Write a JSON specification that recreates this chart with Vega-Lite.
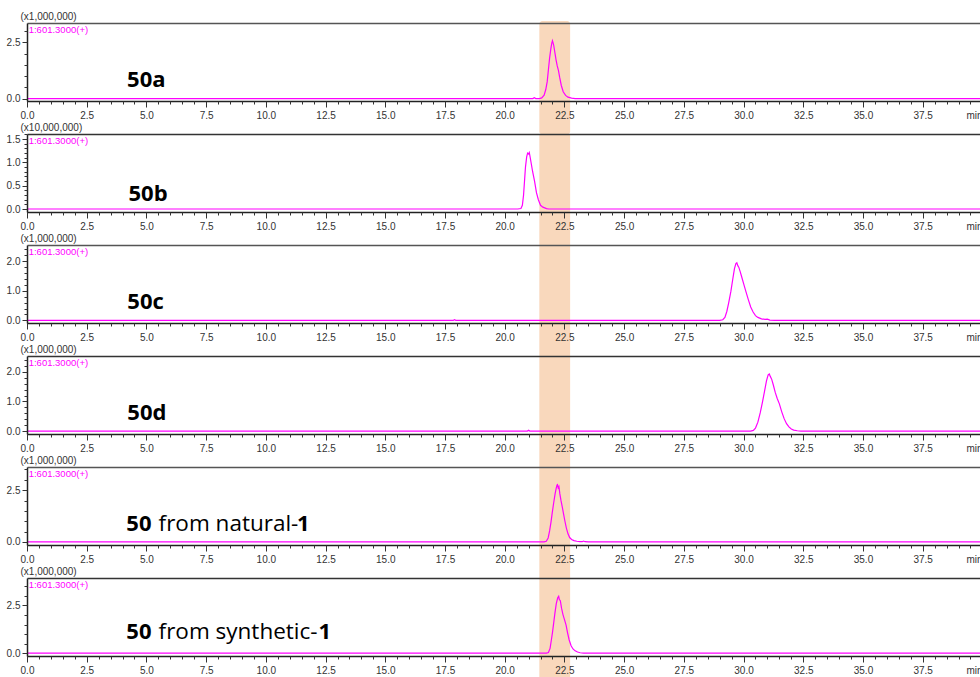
{
  "$schema": "https://vega.github.io/schema/vega-lite/v6.json",
  "padding": {"left": 6, "top": 11, "right": 0, "bottom": 0},
  "autosize": {"type": "pad"},
  "background": "white",
  "spacing": 33,
  "bounds": "flush",
  "config": {
    "view": {"stroke": null},
    "axis": {"labelFont": "Liberation Sans", "labelFontSize": 10, "labelColor": "#333", "tickColor": "#333", "domainColor": "#222", "grid": false, "titleFont": "Liberation Sans", "titleFontSize": 10, "titleFontWeight": "normal", "titleColor": "#333"}
  },
  "datasets": {
    "band": [{"start": 21.45, "end": 22.74}],
    "p1": [{"t":0,"v":0},{"t":21.18,"v":0},{"t":21.24,"v":0.04},{"t":21.3,"v":0},{"t":21.45,"v":0},{"t":21.55,"v":0.03},{"t":21.65,"v":0.15},{"t":21.72,"v":0.4},{"t":21.78,"v":0.75},{"t":21.83,"v":1.28},{"t":21.88,"v":1.8},{"t":21.93,"v":2.2},{"t":21.97,"v":2.45},{"t":22.0,"v":2.57},{"t":22.02,"v":2.5},{"t":22.05,"v":2.38},{"t":22.1,"v":2.05},{"t":22.15,"v":1.72},{"t":22.2,"v":1.45},{"t":22.25,"v":1.25},{"t":22.3,"v":0.95},{"t":22.37,"v":0.58},{"t":22.45,"v":0.3},{"t":22.55,"v":0.14},{"t":22.65,"v":0.06},{"t":22.8,"v":0.02},{"t":22.95,"v":0},{"t":39.9,"v":0}],
    "p2": [{"t":0,"v":0},{"t":20.55,"v":0},{"t":20.68,"v":0.01},{"t":20.74,"v":0.08},{"t":20.79,"v":0.3},{"t":20.83,"v":0.6},{"t":20.87,"v":0.9},{"t":20.92,"v":1.12},{"t":20.96,"v":1.2},{"t":21.0,"v":1.18},{"t":21.03,"v":1.21},{"t":21.07,"v":1.1},{"t":21.12,"v":0.95},{"t":21.17,"v":0.8},{"t":21.25,"v":0.6},{"t":21.33,"v":0.35},{"t":21.41,"v":0.2},{"t":21.5,"v":0.08},{"t":21.6,"v":0.04},{"t":21.75,"v":0.01},{"t":21.85,"v":0},{"t":39.9,"v":0}],
    "p3": [{"t":0,"v":0},{"t":17.85,"v":0},{"t":17.9,"v":0.02},{"t":17.95,"v":0},{"t":29.0,"v":0},{"t":29.13,"v":0.02},{"t":29.22,"v":0.1},{"t":29.3,"v":0.3},{"t":29.38,"v":0.6},{"t":29.47,"v":0.98},{"t":29.55,"v":1.4},{"t":29.62,"v":1.75},{"t":29.68,"v":1.92},{"t":29.72,"v":1.95},{"t":29.76,"v":1.85},{"t":29.8,"v":1.8},{"t":29.86,"v":1.65},{"t":29.93,"v":1.45},{"t":30.0,"v":1.25},{"t":30.1,"v":0.97},{"t":30.2,"v":0.7},{"t":30.3,"v":0.45},{"t":30.4,"v":0.28},{"t":30.5,"v":0.16},{"t":30.6,"v":0.1},{"t":30.75,"v":0.05},{"t":30.9,"v":0.03},{"t":31.0,"v":0.04},{"t":31.1,"v":0.01},{"t":31.3,"v":0},{"t":39.9,"v":0}],
    "p4": [{"t":0,"v":0},{"t":20.95,"v":0},{"t":21.0,"v":0.03},{"t":21.05,"v":0},{"t":30.3,"v":0},{"t":30.41,"v":0.02},{"t":30.5,"v":0.1},{"t":30.6,"v":0.3},{"t":30.7,"v":0.62},{"t":30.79,"v":0.97},{"t":30.88,"v":1.35},{"t":30.96,"v":1.7},{"t":31.03,"v":1.9},{"t":31.08,"v":1.93},{"t":31.12,"v":1.85},{"t":31.18,"v":1.75},{"t":31.25,"v":1.55},{"t":31.33,"v":1.3},{"t":31.41,"v":1.1},{"t":31.5,"v":0.92},{"t":31.6,"v":0.65},{"t":31.7,"v":0.42},{"t":31.8,"v":0.25},{"t":31.9,"v":0.14},{"t":32.0,"v":0.07},{"t":32.1,"v":0.03},{"t":32.25,"v":0.01},{"t":32.4,"v":0},{"t":39.9,"v":0}],
    "p5": [{"t":0,"v":0},{"t":21.65,"v":0},{"t":21.74,"v":0.03},{"t":21.82,"v":0.19},{"t":21.88,"v":0.53},{"t":21.94,"v":0.97},{"t":21.99,"v":1.4},{"t":22.05,"v":1.88},{"t":22.11,"v":2.32},{"t":22.16,"v":2.61},{"t":22.19,"v":2.75},{"t":22.21,"v":2.77},{"t":22.24,"v":2.61},{"t":22.27,"v":2.68},{"t":22.31,"v":2.32},{"t":22.36,"v":1.98},{"t":22.41,"v":1.69},{"t":22.46,"v":1.38},{"t":22.52,"v":1.01},{"t":22.58,"v":0.68},{"t":22.65,"v":0.39},{"t":22.72,"v":0.21},{"t":22.8,"v":0.12},{"t":22.9,"v":0.06},{"t":23.02,"v":0.03},{"t":23.15,"v":0.01},{"t":23.25,"v":0.01},{"t":23.3,"v":0.04},{"t":23.36,"v":0.01},{"t":23.5,"v":0},{"t":39.9,"v":0}],
    "p6": [{"t":0,"v":0},{"t":21.75,"v":0},{"t":21.83,"v":0.03},{"t":21.9,"v":0.25},{"t":21.96,"v":0.74},{"t":22.0,"v":1.08},{"t":22.04,"v":1.47},{"t":22.1,"v":2.07},{"t":22.16,"v":2.6},{"t":22.22,"v":2.9},{"t":22.26,"v":2.98},{"t":22.29,"v":2.8},{"t":22.33,"v":2.75},{"t":22.38,"v":2.36},{"t":22.44,"v":2.02},{"t":22.5,"v":1.77},{"t":22.57,"v":1.47},{"t":22.63,"v":1.08},{"t":22.7,"v":0.69},{"t":22.78,"v":0.39},{"t":22.86,"v":0.22},{"t":22.95,"v":0.12},{"t":23.05,"v":0.06},{"t":23.16,"v":0.02},{"t":23.3,"v":0},{"t":39.9,"v":0}]
  },
  "vconcat": [
    {
      "width": 953, "height": 78,
      "resolve": {"axis": {"x": "independent", "y": "independent"}},
      "layer": [
        {"data": {"name": "band"}, "mark": {"type": "rect", "color": "#F9D8BC", "cornerRadius": 3},
         "encoding": {"x": {"field": "start", "type": "quantitative", "scale": {"domain": [0, 39.9], "nice": false, "zero": false}, "axis": null}, "x2": {"field": "end"},
          "y": {"datum": 3.45, "type": "quantitative", "scale": {"domain": [-0.11, 3.36], "nice": false, "zero": false}, "axis": null}, "y2": {"datum": -1.6}}},
        {"data": {"name": "p1"}, "mark": {"type": "line", "color": "#FF00FF", "strokeWidth": 1.2},
         "encoding": {"x": {"field": "t", "type": "quantitative", "scale": {"domain": [0, 39.9], "nice": false, "zero": false}, "axis": {"zindex": 2, "orient": "bottom", "values": [0,2.5,5,7.5,10,12.5,15,17.5,20,22.5,25,27.5,30,32.5,35,37.5], "format": ".1f", "tickSize": 6, "labelPadding": 3, "labelFlush": false, "labelOverlap": false, "domainWidth": 1.5, "title": "min", "titleX": 939, "titleY": 9, "titleAlign": "left", "titleBaseline": "top"}},
          "y": {"field": "v", "type": "quantitative", "scale": {"domain": [-0.11, 3.36], "nice": false, "zero": false}, "axis": {"zindex": 2, "orient": "left", "values": [0, 2.5], "format": ".1f", "tickSize": 5, "labelPadding": 2, "labelFlush": false, "labelOverlap": false, "domainWidth": 1.5, "title": "(x1,000,000)", "titleAngle": 0, "titleAlign": "left", "titleBaseline": "middle", "titleX": -7, "titleY": -7}}}},
        {"data": {"name": "p1"}, "mark": {"type": "line", "strokeOpacity": 0},
         "encoding": {"x": {"field": "t", "type": "quantitative", "scale": {"domain": [0, 39.9], "nice": false, "zero": false}, "axis": {"zindex": 2, "orient": "bottom", "values": [0,0.5,1,1.5,2,2.5,3,3.5,4,4.5,5,5.5,6,6.5,7,7.5,8,8.5,9,9.5,10,10.5,11,11.5,12,12.5,13,13.5,14,14.5,15,15.5,16,16.5,17,17.5,18,18.5,19,19.5,20,20.5,21,21.5,22,22.5,23,23.5,24,24.5,25,25.5,26,26.5,27,27.5,28,28.5,29,29.5,30,30.5,31,31.5,32,32.5,33,33.5,34,34.5,35,35.5,36,36.5,37,37.5,38,38.5,39,39.5], "labels": false, "tickSize": 3, "domain": false, "title": null}},
          "y": {"field": "v", "type": "quantitative", "scale": {"domain": [-0.11, 3.36], "nice": false, "zero": false}, "axis": {"zindex": 2, "orient": "left", "values": [0,0.5,1,1.5,2,2.5,3], "labels": false, "tickSize": 3, "domain": false, "title": null}}}},
        {"data": {"name": "p1"}, "mark": {"type": "line", "strokeOpacity": 0},
         "encoding": {"x": {"field": "t", "type": "quantitative", "scale": {"domain": [0, 39.9], "nice": false, "zero": false}, "axis": {"zindex": 2, "orient": "top", "ticks": false, "labels": false, "domainWidth": 1.5, "domainColor": "#555", "title": null}},
          "y": {"field": "v", "type": "quantitative", "scale": {"domain": [-0.11, 3.36], "nice": false, "zero": false}, "axis": null}}},
        {"data": {"values": [{}]}, "mark": {"type": "text", "text": "1:601.3000(+)", "color": "#FF00FF", "font": "Liberation Sans", "fontSize": 9.5, "align": "left", "baseline": "top", "dy": 2},
         "encoding": {"x": {"datum": 0.07, "type": "quantitative", "scale": {"domain": [0, 39.9], "nice": false, "zero": false}, "axis": null}, "y": {"datum": 3.36, "type": "quantitative", "scale": {"domain": [-0.11, 3.36], "nice": false, "zero": false}, "axis": null}}},
        {"data": {"values": [{}]}, "mark": {"type": "text", "text": "50a", "font": "Open Sans", "fontSize": 22, "fontWeight": "bold", "align": "left", "baseline": "alphabetic", "color": "#000"},
         "encoding": {"x": {"datum": 4.19, "type": "quantitative", "scale": {"domain": [0, 39.9], "nice": false, "zero": false}, "axis": null}, "y": {"datum": 0.5, "type": "quantitative", "scale": {"domain": [-0.11, 3.36], "nice": false, "zero": false}, "axis": null}}}
      ]
    },
    {
      "width": 953, "height": 78,
      "resolve": {"axis": {"x": "independent", "y": "independent"}},
      "layer": [
        {"data": {"name": "band"}, "mark": {"type": "rect", "color": "#F9D8BC"},
         "encoding": {"x": {"field": "start", "type": "quantitative", "scale": {"domain": [0, 39.9], "nice": false, "zero": false}, "axis": null}, "x2": {"field": "end"},
          "y": {"datum": 1.61, "type": "quantitative", "scale": {"domain": [-0.064, 1.61], "nice": false, "zero": false}, "axis": null}, "y2": {"datum": -0.78}}},
        {"data": {"name": "p2"}, "mark": {"type": "line", "color": "#FF00FF", "strokeWidth": 1.2},
         "encoding": {"x": {"field": "t", "type": "quantitative", "scale": {"domain": [0, 39.9], "nice": false, "zero": false}, "axis": {"zindex": 2, "orient": "bottom", "values": [0,2.5,5,7.5,10,12.5,15,17.5,20,22.5,25,27.5,30,32.5,35,37.5], "format": ".1f", "tickSize": 6, "labelPadding": 3, "labelFlush": false, "labelOverlap": false, "domainWidth": 1.5, "title": "min", "titleX": 939, "titleY": 9, "titleAlign": "left", "titleBaseline": "top"}},
          "y": {"field": "v", "type": "quantitative", "scale": {"domain": [-0.064, 1.61], "nice": false, "zero": false}, "axis": {"zindex": 2, "orient": "left", "values": [0, 0.5, 1, 1.5], "format": ".1f", "tickSize": 5, "labelPadding": 2, "labelFlush": false, "labelOverlap": false, "domainWidth": 1.5, "title": "(x10,000,000)", "titleAngle": 0, "titleAlign": "left", "titleBaseline": "middle", "titleX": -7, "titleY": -7}}}},
        {"data": {"name": "p2"}, "mark": {"type": "line", "strokeOpacity": 0},
         "encoding": {"x": {"field": "t", "type": "quantitative", "scale": {"domain": [0, 39.9], "nice": false, "zero": false}, "axis": {"zindex": 2, "orient": "bottom", "values": [0,0.5,1,1.5,2,2.5,3,3.5,4,4.5,5,5.5,6,6.5,7,7.5,8,8.5,9,9.5,10,10.5,11,11.5,12,12.5,13,13.5,14,14.5,15,15.5,16,16.5,17,17.5,18,18.5,19,19.5,20,20.5,21,21.5,22,22.5,23,23.5,24,24.5,25,25.5,26,26.5,27,27.5,28,28.5,29,29.5,30,30.5,31,31.5,32,32.5,33,33.5,34,34.5,35,35.5,36,36.5,37,37.5,38,38.5,39,39.5], "labels": false, "tickSize": 3, "domain": false, "title": null}},
          "y": {"field": "v", "type": "quantitative", "scale": {"domain": [-0.064, 1.61], "nice": false, "zero": false}, "axis": {"zindex": 2, "orient": "left", "values": [0,0.1,0.2,0.3,0.4,0.5,0.6,0.7,0.8,0.9,1,1.1,1.2,1.3,1.4,1.5,1.6], "labels": false, "tickSize": 3, "domain": false, "title": null}}}},
        {"data": {"name": "p2"}, "mark": {"type": "line", "strokeOpacity": 0},
         "encoding": {"x": {"field": "t", "type": "quantitative", "scale": {"domain": [0, 39.9], "nice": false, "zero": false}, "axis": {"zindex": 2, "orient": "top", "ticks": false, "labels": false, "domainWidth": 1.5, "domainColor": "#333", "title": null}},
          "y": {"field": "v", "type": "quantitative", "scale": {"domain": [-0.064, 1.61], "nice": false, "zero": false}, "axis": null}}},
        {"data": {"values": [{}]}, "mark": {"type": "text", "text": "1:601.3000(+)", "color": "#FF00FF", "font": "Liberation Sans", "fontSize": 9.5, "align": "left", "baseline": "top", "dy": 2},
         "encoding": {"x": {"datum": 0.07, "type": "quantitative", "scale": {"domain": [0, 39.9], "nice": false, "zero": false}, "axis": null}, "y": {"datum": 1.61, "type": "quantitative", "scale": {"domain": [-0.064, 1.61], "nice": false, "zero": false}, "axis": null}}},
        {"data": {"values": [{}]}, "mark": {"type": "text", "text": "50b", "font": "Open Sans", "fontSize": 22, "fontWeight": "bold", "align": "left", "baseline": "alphabetic", "color": "#000"},
         "encoding": {"x": {"datum": 4.25, "type": "quantitative", "scale": {"domain": [0, 39.9], "nice": false, "zero": false}, "axis": null}, "y": {"datum": 0.18, "type": "quantitative", "scale": {"domain": [-0.064, 1.61], "nice": false, "zero": false}, "axis": null}}}
      ]
    },
    {
      "width": 953, "height": 78,
      "resolve": {"axis": {"x": "independent", "y": "independent"}},
      "layer": [
        {"data": {"name": "band"}, "mark": {"type": "rect", "color": "#F9D8BC"},
         "encoding": {"x": {"field": "start", "type": "quantitative", "scale": {"domain": [0, 39.9], "nice": false, "zero": false}, "axis": null}, "x2": {"field": "end"},
          "y": {"datum": 2.55, "type": "quantitative", "scale": {"domain": [-0.09, 2.55], "nice": false, "zero": false}, "axis": null}, "y2": {"datum": -1.22}}},
        {"data": {"name": "p3"}, "mark": {"type": "line", "color": "#FF00FF", "strokeWidth": 1.2},
         "encoding": {"x": {"field": "t", "type": "quantitative", "scale": {"domain": [0, 39.9], "nice": false, "zero": false}, "axis": {"zindex": 2, "orient": "bottom", "values": [0,2.5,5,7.5,10,12.5,15,17.5,20,22.5,25,27.5,30,32.5,35,37.5], "format": ".1f", "tickSize": 6, "labelPadding": 3, "labelFlush": false, "labelOverlap": false, "domainWidth": 1.5, "title": "min", "titleX": 939, "titleY": 9, "titleAlign": "left", "titleBaseline": "top"}},
          "y": {"field": "v", "type": "quantitative", "scale": {"domain": [-0.09, 2.55], "nice": false, "zero": false}, "axis": {"zindex": 2, "orient": "left", "values": [0, 1, 2], "format": ".1f", "tickSize": 5, "labelPadding": 2, "labelFlush": false, "labelOverlap": false, "domainWidth": 1.5, "title": "(x1,000,000)", "titleAngle": 0, "titleAlign": "left", "titleBaseline": "middle", "titleX": -7, "titleY": -7}}}},
        {"data": {"name": "p3"}, "mark": {"type": "line", "strokeOpacity": 0},
         "encoding": {"x": {"field": "t", "type": "quantitative", "scale": {"domain": [0, 39.9], "nice": false, "zero": false}, "axis": {"zindex": 2, "orient": "bottom", "values": [0,0.5,1,1.5,2,2.5,3,3.5,4,4.5,5,5.5,6,6.5,7,7.5,8,8.5,9,9.5,10,10.5,11,11.5,12,12.5,13,13.5,14,14.5,15,15.5,16,16.5,17,17.5,18,18.5,19,19.5,20,20.5,21,21.5,22,22.5,23,23.5,24,24.5,25,25.5,26,26.5,27,27.5,28,28.5,29,29.5,30,30.5,31,31.5,32,32.5,33,33.5,34,34.5,35,35.5,36,36.5,37,37.5,38,38.5,39,39.5], "labels": false, "tickSize": 3, "domain": false, "title": null}},
          "y": {"field": "v", "type": "quantitative", "scale": {"domain": [-0.09, 2.55], "nice": false, "zero": false}, "axis": {"zindex": 2, "orient": "left", "values": [0,0.2,0.4,0.6,0.8,1,1.2,1.4,1.6,1.8,2,2.2,2.4], "labels": false, "tickSize": 3, "domain": false, "title": null}}}},
        {"data": {"name": "p3"}, "mark": {"type": "line", "strokeOpacity": 0},
         "encoding": {"x": {"field": "t", "type": "quantitative", "scale": {"domain": [0, 39.9], "nice": false, "zero": false}, "axis": {"zindex": 2, "orient": "top", "ticks": false, "labels": false, "domainWidth": 1.5, "domainColor": "#555", "title": null}},
          "y": {"field": "v", "type": "quantitative", "scale": {"domain": [-0.09, 2.55], "nice": false, "zero": false}, "axis": null}}},
        {"data": {"values": [{}]}, "mark": {"type": "text", "text": "1:601.3000(+)", "color": "#FF00FF", "font": "Liberation Sans", "fontSize": 9.5, "align": "left", "baseline": "top", "dy": 2},
         "encoding": {"x": {"datum": 0.07, "type": "quantitative", "scale": {"domain": [0, 39.9], "nice": false, "zero": false}, "axis": null}, "y": {"datum": 2.55, "type": "quantitative", "scale": {"domain": [-0.09, 2.55], "nice": false, "zero": false}, "axis": null}}},
        {"data": {"values": [{}]}, "mark": {"type": "text", "text": "50c", "font": "Open Sans", "fontSize": 22, "fontWeight": "bold", "align": "left", "baseline": "alphabetic", "color": "#000"},
         "encoding": {"x": {"datum": 4.2, "type": "quantitative", "scale": {"domain": [0, 39.9], "nice": false, "zero": false}, "axis": null}, "y": {"datum": 0.37, "type": "quantitative", "scale": {"domain": [-0.09, 2.55], "nice": false, "zero": false}, "axis": null}}}
      ]
    },
    {
      "width": 953, "height": 78,
      "resolve": {"axis": {"x": "independent", "y": "independent"}},
      "layer": [
        {"data": {"name": "band"}, "mark": {"type": "rect", "color": "#F9D8BC"},
         "encoding": {"x": {"field": "start", "type": "quantitative", "scale": {"domain": [0, 39.9], "nice": false, "zero": false}, "axis": null}, "x2": {"field": "end"},
          "y": {"datum": 2.54, "type": "quantitative", "scale": {"domain": [-0.1, 2.54], "nice": false, "zero": false}, "axis": null}, "y2": {"datum": -1.23}}},
        {"data": {"name": "p4"}, "mark": {"type": "line", "color": "#FF00FF", "strokeWidth": 1.2},
         "encoding": {"x": {"field": "t", "type": "quantitative", "scale": {"domain": [0, 39.9], "nice": false, "zero": false}, "axis": {"zindex": 2, "orient": "bottom", "values": [0,2.5,5,7.5,10,12.5,15,17.5,20,22.5,25,27.5,30,32.5,35,37.5], "format": ".1f", "tickSize": 6, "labelPadding": 3, "labelFlush": false, "labelOverlap": false, "domainWidth": 1.5, "title": "min", "titleX": 939, "titleY": 9, "titleAlign": "left", "titleBaseline": "top"}},
          "y": {"field": "v", "type": "quantitative", "scale": {"domain": [-0.1, 2.54], "nice": false, "zero": false}, "axis": {"zindex": 2, "orient": "left", "values": [0, 1, 2], "format": ".1f", "tickSize": 5, "labelPadding": 2, "labelFlush": false, "labelOverlap": false, "domainWidth": 1.5, "title": "(x1,000,000)", "titleAngle": 0, "titleAlign": "left", "titleBaseline": "middle", "titleX": -7, "titleY": -7}}}},
        {"data": {"name": "p4"}, "mark": {"type": "line", "strokeOpacity": 0},
         "encoding": {"x": {"field": "t", "type": "quantitative", "scale": {"domain": [0, 39.9], "nice": false, "zero": false}, "axis": {"zindex": 2, "orient": "bottom", "values": [0,0.5,1,1.5,2,2.5,3,3.5,4,4.5,5,5.5,6,6.5,7,7.5,8,8.5,9,9.5,10,10.5,11,11.5,12,12.5,13,13.5,14,14.5,15,15.5,16,16.5,17,17.5,18,18.5,19,19.5,20,20.5,21,21.5,22,22.5,23,23.5,24,24.5,25,25.5,26,26.5,27,27.5,28,28.5,29,29.5,30,30.5,31,31.5,32,32.5,33,33.5,34,34.5,35,35.5,36,36.5,37,37.5,38,38.5,39,39.5], "labels": false, "tickSize": 3, "domain": false, "title": null}},
          "y": {"field": "v", "type": "quantitative", "scale": {"domain": [-0.1, 2.54], "nice": false, "zero": false}, "axis": {"zindex": 2, "orient": "left", "values": [0,0.2,0.4,0.6,0.8,1,1.2,1.4,1.6,1.8,2,2.2,2.4], "labels": false, "tickSize": 3, "domain": false, "title": null}}}},
        {"data": {"name": "p4"}, "mark": {"type": "line", "strokeOpacity": 0},
         "encoding": {"x": {"field": "t", "type": "quantitative", "scale": {"domain": [0, 39.9], "nice": false, "zero": false}, "axis": {"zindex": 2, "orient": "top", "ticks": false, "labels": false, "domainWidth": 1.5, "domainColor": "#333", "title": null}},
          "y": {"field": "v", "type": "quantitative", "scale": {"domain": [-0.1, 2.54], "nice": false, "zero": false}, "axis": null}}},
        {"data": {"values": [{}]}, "mark": {"type": "text", "text": "1:601.3000(+)", "color": "#FF00FF", "font": "Liberation Sans", "fontSize": 9.5, "align": "left", "baseline": "top", "dy": 2},
         "encoding": {"x": {"datum": 0.07, "type": "quantitative", "scale": {"domain": [0, 39.9], "nice": false, "zero": false}, "axis": null}, "y": {"datum": 2.54, "type": "quantitative", "scale": {"domain": [-0.1, 2.54], "nice": false, "zero": false}, "axis": null}}},
        {"data": {"values": [{}]}, "mark": {"type": "text", "text": "50d", "font": "Open Sans", "fontSize": 22, "fontWeight": "bold", "align": "left", "baseline": "alphabetic", "color": "#000"},
         "encoding": {"x": {"datum": 4.2, "type": "quantitative", "scale": {"domain": [0, 39.9], "nice": false, "zero": false}, "axis": null}, "y": {"datum": 0.37, "type": "quantitative", "scale": {"domain": [-0.1, 2.54], "nice": false, "zero": false}, "axis": null}}}
      ]
    },
    {
      "width": 953, "height": 78,
      "resolve": {"axis": {"x": "independent", "y": "independent"}},
      "layer": [
        {"data": {"name": "band"}, "mark": {"type": "rect", "color": "#F9D8BC"},
         "encoding": {"x": {"field": "start", "type": "quantitative", "scale": {"domain": [0, 39.9], "nice": false, "zero": false}, "axis": null}, "x2": {"field": "end"},
          "y": {"datum": 3.62, "type": "quantitative", "scale": {"domain": [-0.15, 3.62], "nice": false, "zero": false}, "axis": null}, "y2": {"datum": -1.75}}},
        {"data": {"name": "p5"}, "mark": {"type": "line", "color": "#FF00FF", "strokeWidth": 1.2},
         "encoding": {"x": {"field": "t", "type": "quantitative", "scale": {"domain": [0, 39.9], "nice": false, "zero": false}, "axis": {"zindex": 2, "orient": "bottom", "values": [0,2.5,5,7.5,10,12.5,15,17.5,20,22.5,25,27.5,30,32.5,35,37.5], "format": ".1f", "tickSize": 6, "labelPadding": 3, "labelFlush": false, "labelOverlap": false, "domainWidth": 1.5, "title": "min", "titleX": 939, "titleY": 9, "titleAlign": "left", "titleBaseline": "top"}},
          "y": {"field": "v", "type": "quantitative", "scale": {"domain": [-0.15, 3.62], "nice": false, "zero": false}, "axis": {"zindex": 2, "orient": "left", "values": [0, 2.5], "format": ".1f", "tickSize": 5, "labelPadding": 2, "labelFlush": false, "labelOverlap": false, "domainWidth": 1.5, "title": "(x1,000,000)", "titleAngle": 0, "titleAlign": "left", "titleBaseline": "middle", "titleX": -7, "titleY": -7}}}},
        {"data": {"name": "p5"}, "mark": {"type": "line", "strokeOpacity": 0},
         "encoding": {"x": {"field": "t", "type": "quantitative", "scale": {"domain": [0, 39.9], "nice": false, "zero": false}, "axis": {"zindex": 2, "orient": "bottom", "values": [0,0.5,1,1.5,2,2.5,3,3.5,4,4.5,5,5.5,6,6.5,7,7.5,8,8.5,9,9.5,10,10.5,11,11.5,12,12.5,13,13.5,14,14.5,15,15.5,16,16.5,17,17.5,18,18.5,19,19.5,20,20.5,21,21.5,22,22.5,23,23.5,24,24.5,25,25.5,26,26.5,27,27.5,28,28.5,29,29.5,30,30.5,31,31.5,32,32.5,33,33.5,34,34.5,35,35.5,36,36.5,37,37.5,38,38.5,39,39.5], "labels": false, "tickSize": 3, "domain": false, "title": null}},
          "y": {"field": "v", "type": "quantitative", "scale": {"domain": [-0.15, 3.62], "nice": false, "zero": false}, "axis": {"zindex": 2, "orient": "left", "values": [0,0.5,1,1.5,2,2.5,3,3.5], "labels": false, "tickSize": 3, "domain": false, "title": null}}}},
        {"data": {"name": "p5"}, "mark": {"type": "line", "strokeOpacity": 0},
         "encoding": {"x": {"field": "t", "type": "quantitative", "scale": {"domain": [0, 39.9], "nice": false, "zero": false}, "axis": {"zindex": 2, "orient": "top", "ticks": false, "labels": false, "domainWidth": 1.5, "domainColor": "#555", "title": null}},
          "y": {"field": "v", "type": "quantitative", "scale": {"domain": [-0.15, 3.62], "nice": false, "zero": false}, "axis": null}}},
        {"data": {"values": [{}]}, "mark": {"type": "text", "text": "1:601.3000(+)", "color": "#FF00FF", "font": "Liberation Sans", "fontSize": 9.5, "align": "left", "baseline": "top", "dy": 2},
         "encoding": {"x": {"datum": 0.07, "type": "quantitative", "scale": {"domain": [0, 39.9], "nice": false, "zero": false}, "axis": null}, "y": {"datum": 3.62, "type": "quantitative", "scale": {"domain": [-0.15, 3.62], "nice": false, "zero": false}, "axis": null}}},
        {"data": {"values": [{}]}, "mark": {"type": "text", "text": "50", "font": "Open Sans", "fontSize": 22, "fontWeight": "bold", "align": "left", "baseline": "alphabetic", "color": "#000"},
         "encoding": {"x": {"datum": 4.16, "type": "quantitative", "scale": {"domain": [0, 39.9], "nice": false, "zero": false}, "axis": null}, "y": {"datum": 0.53, "type": "quantitative", "scale": {"domain": [-0.15, 3.62], "nice": false, "zero": false}, "axis": null}}},
        {"data": {"values": [{}]}, "mark": {"type": "text", "text": "from natural-", "font": "Open Sans", "fontSize": 22.5, "fontWeight": "normal", "align": "left", "baseline": "alphabetic", "color": "#000"},
         "encoding": {"x": {"datum": 5.51, "type": "quantitative", "scale": {"domain": [0, 39.9], "nice": false, "zero": false}, "axis": null}, "y": {"datum": 0.53, "type": "quantitative", "scale": {"domain": [-0.15, 3.62], "nice": false, "zero": false}, "axis": null}}},
        {"data": {"values": [{}]}, "mark": {"type": "text", "text": "1", "font": "Open Sans", "fontSize": 22, "fontWeight": "bold", "align": "left", "baseline": "alphabetic", "color": "#000"},
         "encoding": {"x": {"datum": 11.3, "type": "quantitative", "scale": {"domain": [0, 39.9], "nice": false, "zero": false}, "axis": null}, "y": {"datum": 0.53, "type": "quantitative", "scale": {"domain": [-0.15, 3.62], "nice": false, "zero": false}, "axis": null}}}
      ]
    },
    {
      "width": 953, "height": 78,
      "resolve": {"axis": {"x": "independent", "y": "independent"}},
      "layer": [
        {"data": {"name": "band"}, "mark": {"type": "rect", "color": "#F9D8BC"},
         "encoding": {"x": {"field": "start", "type": "quantitative", "scale": {"domain": [0, 39.9], "nice": false, "zero": false}, "axis": null}, "x2": {"field": "end"},
          "y": {"datum": 3.94, "type": "quantitative", "scale": {"domain": [-0.15, 3.94], "nice": false, "zero": false}, "axis": null}, "y2": {"datum": -1.3}}},
        {"data": {"name": "p6"}, "mark": {"type": "line", "color": "#FF00FF", "strokeWidth": 1.2},
         "encoding": {"x": {"field": "t", "type": "quantitative", "scale": {"domain": [0, 39.9], "nice": false, "zero": false}, "axis": {"zindex": 2, "orient": "bottom", "values": [0,2.5,5,7.5,10,12.5,15,17.5,20,22.5,25,27.5,30,32.5,35,37.5], "format": ".1f", "tickSize": 6, "labelPadding": 3, "labelFlush": false, "labelOverlap": false, "domainWidth": 1.5, "title": "min", "titleX": 939, "titleY": 9, "titleAlign": "left", "titleBaseline": "top"}},
          "y": {"field": "v", "type": "quantitative", "scale": {"domain": [-0.15, 3.94], "nice": false, "zero": false}, "axis": {"zindex": 2, "orient": "left", "values": [0, 2.5], "format": ".1f", "tickSize": 5, "labelPadding": 2, "labelFlush": false, "labelOverlap": false, "domainWidth": 1.5, "title": "(x1,000,000)", "titleAngle": 0, "titleAlign": "left", "titleBaseline": "middle", "titleX": -7, "titleY": -7}}}},
        {"data": {"name": "p6"}, "mark": {"type": "line", "strokeOpacity": 0},
         "encoding": {"x": {"field": "t", "type": "quantitative", "scale": {"domain": [0, 39.9], "nice": false, "zero": false}, "axis": {"zindex": 2, "orient": "bottom", "values": [0,0.5,1,1.5,2,2.5,3,3.5,4,4.5,5,5.5,6,6.5,7,7.5,8,8.5,9,9.5,10,10.5,11,11.5,12,12.5,13,13.5,14,14.5,15,15.5,16,16.5,17,17.5,18,18.5,19,19.5,20,20.5,21,21.5,22,22.5,23,23.5,24,24.5,25,25.5,26,26.5,27,27.5,28,28.5,29,29.5,30,30.5,31,31.5,32,32.5,33,33.5,34,34.5,35,35.5,36,36.5,37,37.5,38,38.5,39,39.5], "labels": false, "tickSize": 3, "domain": false, "title": null}},
          "y": {"field": "v", "type": "quantitative", "scale": {"domain": [-0.15, 3.94], "nice": false, "zero": false}, "axis": {"zindex": 2, "orient": "left", "values": [0,0.5,1,1.5,2,2.5,3,3.5], "labels": false, "tickSize": 3, "domain": false, "title": null}}}},
        {"data": {"name": "p6"}, "mark": {"type": "line", "strokeOpacity": 0},
         "encoding": {"x": {"field": "t", "type": "quantitative", "scale": {"domain": [0, 39.9], "nice": false, "zero": false}, "axis": {"zindex": 2, "orient": "top", "ticks": false, "labels": false, "domainWidth": 1.5, "domainColor": "#333", "title": null}},
          "y": {"field": "v", "type": "quantitative", "scale": {"domain": [-0.15, 3.94], "nice": false, "zero": false}, "axis": null}}},
        {"data": {"values": [{}]}, "mark": {"type": "text", "text": "1:601.3000(+)", "color": "#FF00FF", "font": "Liberation Sans", "fontSize": 9.5, "align": "left", "baseline": "top", "dy": 2},
         "encoding": {"x": {"datum": 0.07, "type": "quantitative", "scale": {"domain": [0, 39.9], "nice": false, "zero": false}, "axis": null}, "y": {"datum": 3.94, "type": "quantitative", "scale": {"domain": [-0.15, 3.94], "nice": false, "zero": false}, "axis": null}}},
        {"data": {"values": [{}]}, "mark": {"type": "text", "text": "50", "font": "Open Sans", "fontSize": 22, "fontWeight": "bold", "align": "left", "baseline": "alphabetic", "color": "#000"},
         "encoding": {"x": {"datum": 4.16, "type": "quantitative", "scale": {"domain": [0, 39.9], "nice": false, "zero": false}, "axis": null}, "y": {"datum": 0.72, "type": "quantitative", "scale": {"domain": [-0.15, 3.94], "nice": false, "zero": false}, "axis": null}}},
        {"data": {"values": [{}]}, "mark": {"type": "text", "text": "from synthetic-", "font": "Open Sans", "fontSize": 22.5, "fontWeight": "normal", "align": "left", "baseline": "alphabetic", "color": "#000"},
         "encoding": {"x": {"datum": 5.51, "type": "quantitative", "scale": {"domain": [0, 39.9], "nice": false, "zero": false}, "axis": null}, "y": {"datum": 0.72, "type": "quantitative", "scale": {"domain": [-0.15, 3.94], "nice": false, "zero": false}, "axis": null}}},
        {"data": {"values": [{}]}, "mark": {"type": "text", "text": "1", "font": "Open Sans", "fontSize": 22, "fontWeight": "bold", "align": "left", "baseline": "alphabetic", "color": "#000"},
         "encoding": {"x": {"datum": 12.2, "type": "quantitative", "scale": {"domain": [0, 39.9], "nice": false, "zero": false}, "axis": null}, "y": {"datum": 0.72, "type": "quantitative", "scale": {"domain": [-0.15, 3.94], "nice": false, "zero": false}, "axis": null}}}
      ]
    }
  ]
}
